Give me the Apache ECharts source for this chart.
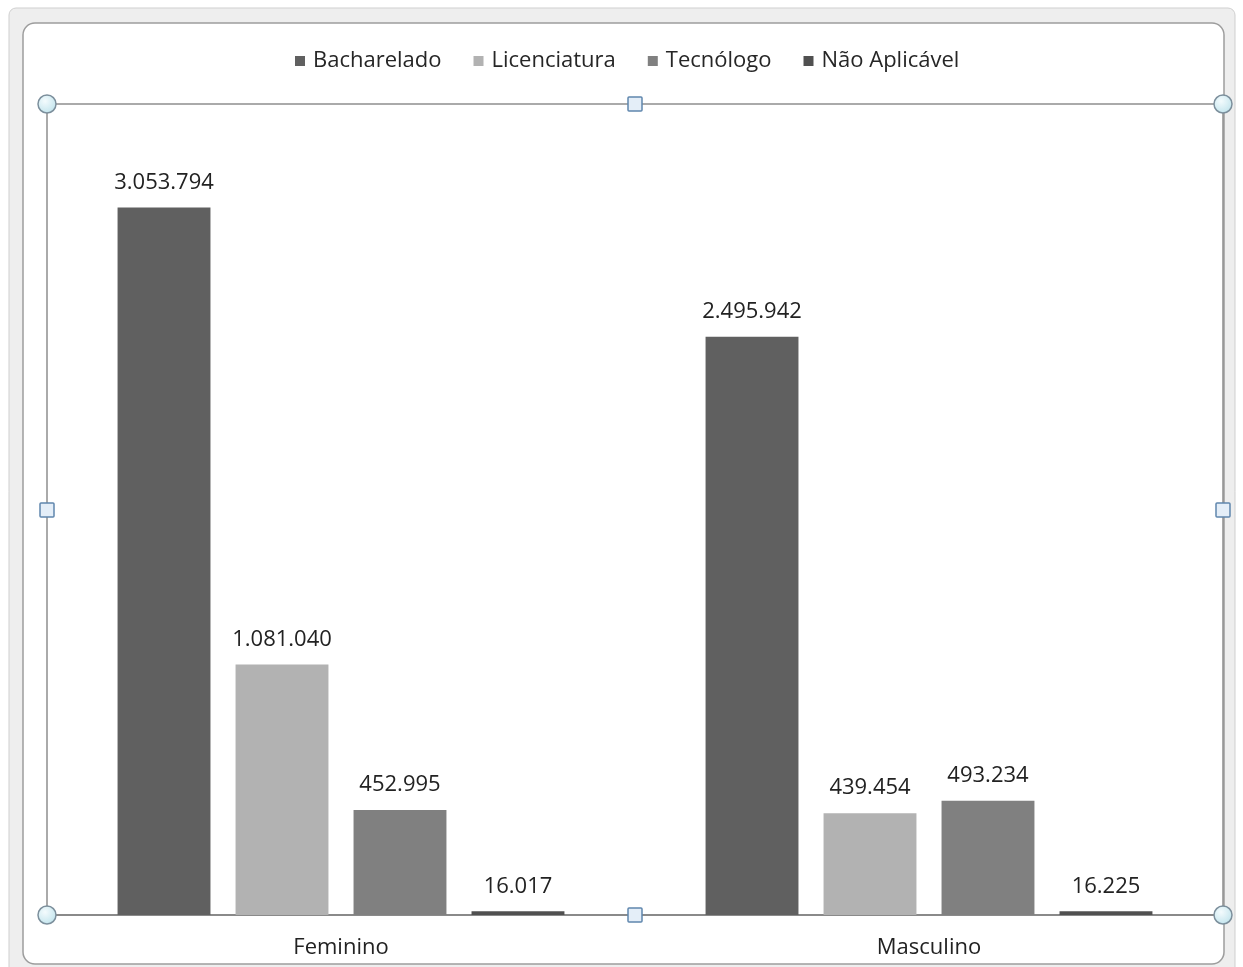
<!DOCTYPE html>
<html>
<head>
<meta charset="utf-8">
<script src="https://cdn.jsdelivr.net/npm/echarts@6/dist/echarts.min.js"></script>
<style>html,body{margin:0;padding:0;background:#fff}#c{width:1243px;height:967px}</style>
</head>
<body>
<div id="c"></div>
<script>
const categories = ['Feminino', 'Masculino'];
const seriesNames = ['Bacharelado', 'Licenciatura', 'Tecnólogo', 'Não Aplicável'];
const bacharelado = [3053794, 2495942];
const licenciatura = [1081040, 439454];
const tecnologo = [452995, 493234];
const naoAplicavel = [16017, 16225];
const colors = ['#606060', '#b2b2b2', '#808080', '#505050'];

const FONT = '"Open Sans", sans-serif';
function fmt(v) { return String(v).replace(/\B(?=(\d{3})+(?!\d))/g, '.'); }

const chart = echarts.init(document.getElementById('c'));
const data = [bacharelado, licenciatura, tecnologo, naoAplicavel];

const gridL = 47, gridT = 104, gridR = 1223, gridB = 915;
const handleCircle = (x, y) => ({ type: 'circle', shape: { cx: x, cy: y, r: 9 }, z: 100,
  style: { fill: new echarts.graphic.RadialGradient(0.4, 0.35, 0.7, [{offset:0,color:'#f4fbfd'},{offset:1,color:'#bfe3ec'}]), stroke: '#7c8f9c', lineWidth: 1.5 } });
const handleSquare = (x, y) => ({ type: 'rect', shape: { x: x - 7, y: y - 7, width: 14, height: 14, r: 1 }, z: 100,
  style: { fill: '#e4eef8', stroke: '#5f86ad', lineWidth: 1.5 } });

chart.setOption({
  animation: false,
  color: colors,
  graphic: [
    { type: 'rect', z: -20, silent: true, shape: { x: 9, y: 8, width: 1226, height: 975, r: 7 }, style: { fill: '#eeeeee', stroke: '#cfcfcf', lineWidth: 1 } },
    { type: 'rect', z: -19, silent: true, shape: { x: 23, y: 23, width: 1201, height: 941, r: 12 }, style: { fill: '#ffffff', stroke: '#9d9d9d', lineWidth: 1.5 } },
    handleCircle(gridL, gridT), handleCircle(gridR, gridT), handleCircle(gridL, gridB), handleCircle(gridR, gridB),
    handleSquare(635, gridT), handleSquare(635, gridB), handleSquare(gridL, 510), handleSquare(gridR, 510)
  ],
  legend: {
    top: 45, left: 290,
    icon: 'rect', itemWidth: 10, itemHeight: 10, itemGap: 32,
    data: seriesNames,
    textStyle: { fontFamily: FONT, fontSize: 22, color: '#262626', padding: [0, 0, 0, 3] }
  },
  grid: { left: gridL, top: gridT, right: 1243 - gridR, bottom: 967 - gridB, show: true, borderColor: '#8e8e8e', borderWidth: 1.5, backgroundColor: 'transparent' },
  xAxis: {
    type: 'category', data: categories,
    axisLine: { lineStyle: { color: '#8a8a8a', width: 2 } },
    axisTick: { show: false },
    axisLabel: { fontFamily: FONT, fontSize: 22, color: '#222', margin: 22 }
  },
  yAxis: { type: 'value', min: 0, max: 3500000, show: false, splitLine: { show: false } },
  series: seriesNames.map((n, i) => ({
    name: n, type: 'bar', data: data[i],
    barGap: '27%', barCategoryGap: '24%',
    itemStyle: { color: colors[i] },
    label: { show: true, position: 'top', distance: 14, fontFamily: FONT, fontSize: 22, color: '#222', formatter: p => fmt(p.value) }
  }))
});
</script>
</body>
</html>
